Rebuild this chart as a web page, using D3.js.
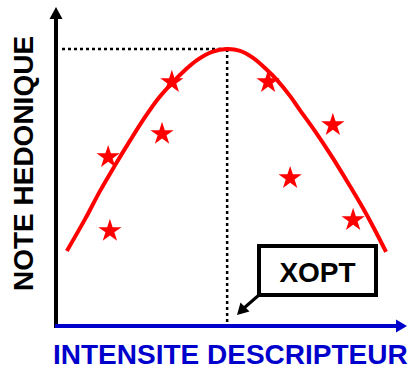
<!DOCTYPE html>
<html>
<head>
<meta charset="utf-8">
<script src="https://cdn.jsdelivr.net/npm/d3@7"></script>
<style>
  html, body { margin: 0; padding: 0; background: #fff; }
  svg { display: block; }
  text { font-family: "Liberation Sans", Arial, Helvetica, sans-serif; font-weight: bold; }
</style>
</head>
<body>
<svg id="chart" width="409" height="371"></svg>
<script>
// ---- data (arbitrary units) ----
const curveX = [0.31, 0.83, 1.26, 1.69, 2.11, 2.49, 2.89, 3.34, 3.69, 4.03, 4.46, 4.89, 5.26, 5.63, 6.03, 6.31, 6.69, 6.97, 7.40, 7.91, 8.40, 8.77, 9.11, 9.43];
const curveY = [2.36, 3.36, 4.25, 5.06, 5.82, 6.48, 7.11, 7.67, 8.05, 8.36, 8.62, 8.71, 8.65, 8.43, 8.05, 7.74, 7.23, 6.79, 6.13, 5.28, 4.40, 3.71, 3.02, 2.33];
const starX = [1.49, 3.31, 3.03, 6.06, 7.91, 6.69, 8.49, 1.54];
const starY = [5.31, 7.67, 6.04, 7.67, 6.32, 4.65, 3.33, 2.99];
const xOpt = 4.89;
const yOpt = 8.71;
const xLabel = "INTENSITE DESCRIPTEUR";
const yLabel = "NOTE HEDONIQUE";
const optLabel = "XOPT";

// ---- scales ----
const x = d3.scaleLinear().domain([0, 10]).range([56, 406]);
const y = d3.scaleLinear().domain([0, 10]).range([326, 8]);

const svg = d3.select("#chart");
const BLUE = "#0000CC";

// dotted guide lines
svg.append("line")
  .attr("x1", x(0) + 6).attr("x2", x(xOpt))
  .attr("y1", y(yOpt)).attr("y2", y(yOpt))
  .attr("stroke", "#000").attr("stroke-width", 2.5).attr("stroke-dasharray", "3,3");
svg.append("line")
  .attr("x1", x(xOpt)).attr("x2", x(xOpt))
  .attr("y1", y(yOpt)).attr("y2", y(0))
  .attr("stroke", "#000").attr("stroke-width", 2.5).attr("stroke-dasharray", "3,3");

// fitted curve
const pts = curveX.map((d, i) => [d, curveY[i]]);
svg.append("path")
  .datum(pts)
  .attr("fill", "none")
  .attr("stroke", "#FF0000")
  .attr("stroke-width", 4)
  .attr("d", d3.line().x(d => x(d[0])).y(d => y(d[1])).curve(d3.curveCatmullRom.alpha(0.5)));

// stars
const star = d3.symbol().type(d3.symbolStar).size(168);
svg.selectAll("path.star")
  .data(starX.map((d, i) => [d, starY[i]]))
  .join("path")
  .attr("class", "star")
  .attr("transform", d => `translate(${x(d[0])},${y(d[1])})`)
  .attr("d", star)
  .attr("fill", "#FF0000");

// y axis (black) with arrow
const x0 = x(0), y0 = y(0), yTop = y(10);
svg.append("line")
  .attr("x1", x0).attr("x2", x0).attr("y1", y0 + 2).attr("y2", yTop + 10)
  .attr("stroke", "#000").attr("stroke-width", 4);
svg.append("path")
  .attr("d", `M${x0},${yTop - 1}L${x0 - 6.5},${yTop + 11}L${x0 + 6.5},${yTop + 11}Z`)
  .attr("fill", "#000");

// x axis (blue) with arrow
const xEnd = x(10);
svg.append("line")
  .attr("x1", x0 - 1).attr("x2", xEnd - 8).attr("y1", y0).attr("y2", y0)
  .attr("stroke", BLUE).attr("stroke-width", 4);
svg.append("path")
  .attr("d", `M${xEnd + 1},${y0}L${xEnd - 10},${y0 - 6.5}L${xEnd - 10},${y0 + 6.5}Z`)
  .attr("fill", BLUE);

// XOPT callout box
svg.append("rect")
  .attr("x", 259).attr("y", 246).attr("width", 117).attr("height", 49)
  .attr("fill", "#fff").attr("stroke", "#000").attr("stroke-width", 4);
svg.append("text")
  .attr("x", 317.5).attr("y", 282)
  .attr("text-anchor", "middle")
  .attr("font-size", 28)
  .attr("fill", "#000")
  .text(optLabel);
// callout arrow pointing toward XOPT on the axis
svg.append("line")
  .attr("x1", 259).attr("y1", 295).attr("x2", 244).attr("y2", 308)
  .attr("stroke", "#000").attr("stroke-width", 3);
svg.append("path")
  .attr("d", "M237,315L240.5,302.5L249.5,311.5Z")
  .attr("fill", "#000");

// axis titles
svg.append("text")
  .attr("transform", "translate(33,163.5) rotate(-90)")
  .attr("text-anchor", "middle")
  .attr("font-size", 28)
  .attr("fill", "#000")
  .text(yLabel);
svg.append("text")
  .attr("x", 53).attr("y", 364)
  .attr("text-anchor", "start")
  .attr("font-size", 28)
  .attr("fill", BLUE)
  .text(xLabel);
</script>
</body>
</html>
